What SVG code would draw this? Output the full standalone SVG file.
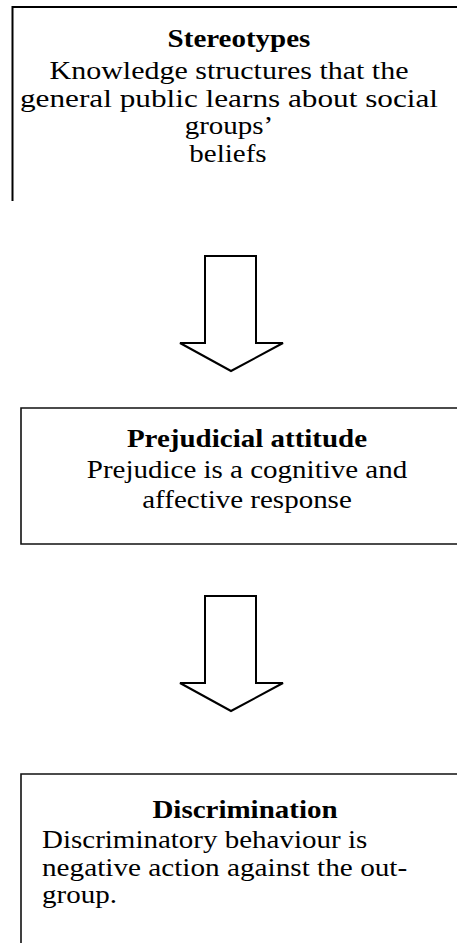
<svg xmlns="http://www.w3.org/2000/svg" width="457" height="943" viewBox="0 0 457 943">
<style>
.box{fill:none;stroke:#000;stroke-width:2}
.box2{fill:none;stroke:#111;stroke-width:1.6}
.arrow{fill:#fff;stroke:#000;stroke-width:2;stroke-linejoin:miter}
text{font-family:"Liberation Serif","Times New Roman",serif;font-size:25px;fill:#000}
.h{font-weight:bold}
.c{text-anchor:middle}
</style>
<rect width="457" height="943" fill="#fff"/>
<g id="stereotypes">
<path class="box" d="M12.5,201 V7 H460"/>
<text class="h c" transform="translate(239,47) scale(1.16,1)">Stereotypes</text>
<text class="c" transform="translate(229,79) scale(1.2,1)">Knowledge structures that the</text>
<text class="c" transform="translate(229,107) scale(1.25,1)">general public learns about social</text>
<text class="c" transform="translate(229,134) scale(1.16,1)">groups’</text>
<text class="c" transform="translate(228,162) scale(1.16,1)">beliefs</text>
</g>
<g id="prejudicial-attitude">
<path class="box2" d="M460,408 H21 V544 H460"/>
<text class="h c" transform="translate(247,447) scale(1.16,1)">Prejudicial attitude</text>
<text class="c" transform="translate(247,478) scale(1.16,1)">Prejudice is a cognitive and</text>
<text class="c" transform="translate(247,508) scale(1.16,1)">affective response</text>
</g>
<g id="discrimination">
<path class="box2" d="M21,950 V774 H460"/>
<text class="h c" transform="translate(245,818) scale(1.16,1)">Discrimination</text>
<text transform="translate(42,848) scale(1.16,1)">Discriminatory behaviour is</text>
<text transform="translate(42,876) scale(1.17,1)">negative action against the out-</text>
<text transform="translate(42,903) scale(1.16,1)">group.</text>
</g>
<g id="connectors">
<polygon class="arrow" points="205,256 256,256 256,343 283,343 231,371 180,343 205,343"/>
<polygon class="arrow" points="205,596 256,596 256,683 283,683 231,711 180,683 205,683"/>
</g>
</svg>
